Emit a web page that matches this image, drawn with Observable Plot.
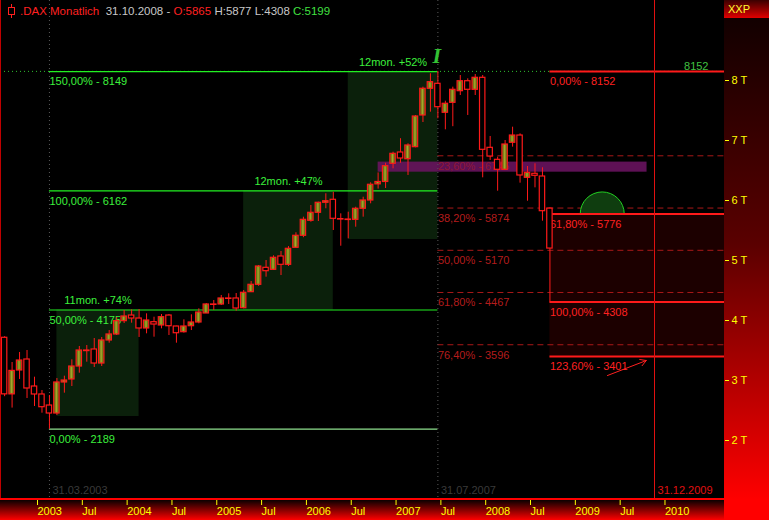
<!DOCTYPE html>
<html><head><meta charset="utf-8">
<script src="https://cdn.jsdelivr.net/npm/d3@7"></script>
<script src="https://cdn.jsdelivr.net/npm/@observablehq/plot@0.6"></script>
<style>
html,body{margin:0;padding:0;background:#000;}
#wrap{position:relative;width:769px;height:520px;background:#000;overflow:hidden;font-family:"Liberation Sans",Arial,sans-serif;font-size:11px;}
#rp{position:absolute;left:724px;top:18px;width:45px;height:502px;background:linear-gradient(to bottom,#120000 0%,#5a0000 45%,#ff0000 96%,#ff0000 100%);}
#hdr{position:absolute;left:724px;top:0;width:45px;height:18px;background:linear-gradient(to bottom,#3a0000,#e00000);color:#ffff30;line-height:18px;padding-left:4px;box-sizing:border-box;}
#bp{position:absolute;left:0;top:500px;width:724px;height:20px;background:linear-gradient(to bottom,#0a0000,#ff0000);}
#bl{position:absolute;left:0;top:498px;width:724px;height:2px;background:#ff0000;z-index:3;}
#ll{position:absolute;left:0;top:0;width:1px;height:498px;background:#c00000;z-index:3;}
#chart{position:absolute;left:0;top:0;z-index:2;}
#title{position:absolute;left:7px;top:4px;z-index:4;white-space:pre;line-height:14px;font-size:11.5px;}
#icon{display:inline-block;position:relative;width:9px;height:14px;vertical-align:top;margin-right:4px;}
#icon:before{content:"";position:absolute;left:4px;top:0;width:1px;height:14px;background:#ff2020;}
#icon:after{content:"";position:absolute;left:1px;top:3px;width:5px;height:6px;border:1px solid #ff2020;background:#000;}
</style></head>
<body>
<svg width="0" height="0" style="position:absolute">
  <defs>
    <linearGradient id="upfill" x1="0" x2="1" y1="0" y2="0">
      <stop offset="0%" stop-color="#3f5208"/>
      <stop offset="50%" stop-color="#a8a82a"/>
      <stop offset="100%" stop-color="#3f5208"/>
    </linearGradient>
  </defs>
</svg>
<div id="wrap">
  <div id="rp"></div>
  <div id="hdr">XXP</div>
  <div id="bp"></div>
  <div id="bl"></div>
  <div id="ll"></div>
  <div id="chart"></div>
  <div id="title"><span id="icon"></span><span style="color:#ff2020">.DAX Monatlich</span>  <span style="color:#c8c8c8">31.10.2008 - </span><span style="color:#ff2020">O:5865</span> <span style="color:#c8c8c8">H:5877 L:4308</span> <span style="color:#40e040">C:5199</span></div>
</div>
<script>
// ---- monthly candles (DAX, Sep 2002 – Oct 2008) ----
const months = [
 "2002-09","2002-10","2002-11","2002-12",
 "2003-01","2003-02","2003-03","2003-04","2003-05","2003-06","2003-07","2003-08","2003-09","2003-10","2003-11","2003-12",
 "2004-01","2004-02","2004-03","2004-04","2004-05","2004-06","2004-07","2004-08","2004-09","2004-10","2004-11","2004-12",
 "2005-01","2005-02","2005-03","2005-04","2005-05","2005-06","2005-07","2005-08","2005-09","2005-10","2005-11","2005-12",
 "2006-01","2006-02","2006-03","2006-04","2006-05","2006-06","2006-07","2006-08","2006-09","2006-10","2006-11","2006-12",
 "2007-01","2007-02","2007-03","2007-04","2007-05","2007-06","2007-07","2007-08","2007-09","2007-10","2007-11","2007-12",
 "2008-01","2008-02","2008-03","2008-04","2008-05","2008-06","2008-07","2008-08","2008-09","2008-10"];
const open = [3712,2769,3167,3350,
 2900,2767,2583,2450,2967,3017,3233,3500,3517,3283,3667,3767,
 3989,4083,4033,3867,3972,3917,4083,3900,3805,3905,3967,4117,
 4267,4267,4367,4367,4205,4472,4595,4878,4845,5067,4928,5212,
 5412,5662,5795,5962,6012,5683,5683,5678,5862,6000,6269,6309,
 6612,6800,6688,6889,7417,7862,7945,7462,7628,7822,7988,7845,
 8045,6878,6678,6512,6962,7083,6378,6445,6400,5865];
const high = [3730,3300,3467,3500,
 3055,2833,2750,3033,3072,3345,3567,3583,3700,3717,3833,4050,
 4167,4178,4183,4111,4055,4100,4100,3905,4011,4095,4195,4283,
 4333,4417,4445,4450,4500,4650,4917,5000,5078,5150,5233,5462,
 5722,5917,5972,6112,6138,5778,5805,5888,6055,6295,6460,6620,
 6805,7030,6945,7417,7889,8112,8152,7655,7889,8083,8028,8100,
 8083,7067,6722,7000,7222,7111,6567,6612,6545,5877];
const low = [2730,2540,3017,2700,
 2567,2455,2189,2417,2789,2900,3122,3305,3217,3233,3622,3750,
 3950,3955,3717,3778,3722,3861,3750,3622,3789,3833,3945,4117,
 4167,4250,4267,4155,4195,4472,4570,4722,4833,4750,4900,5212,
 5380,5638,5650,5862,5500,5238,5362,5555,5722,5945,6190,6200,
 6528,6620,6417,6878,7300,7472,7362,7178,7230,7750,7417,7750,
 6378,6667,6155,6500,6889,6289,5988,6211,5655,4308];
const close = [2769,3160,3333,2867,
 2767,2555,2450,2967,3000,3233,3500,3490,3283,3667,3767,3989,
 4067,4033,3867,4000,3933,4055,3905,3788,3900,3967,4133,4267,
 4260,4367,4360,4200,4462,4595,4900,4822,5045,4928,5195,5412,
 5678,5795,5962,5988,5695,5690,5675,5862,6000,6262,6309,6572,
 6778,6700,6917,7400,7862,7972,7555,7612,7845,7988,7845,8045,
 6845,6733,6512,6933,7083,6417,6462,6412,5822,5199];

// ---- upswing legs (green boxes) ----
const legFrom  = ["2003-04","2005-05","2006-07"];
const legTo    = ["2004-03","2006-05","2007-07"];
const legLow   = [2400,4175,5350];
const legHigh  = [4175,6162,8149];
const legLabel = ["11mon. +74%","12mon. +47%","12mon. +52%"];

// ---- green fibonacci extension (Mar 2003 low -> Jul 2007) ----
const gFibPct = ["0,00%","50,00%","100,00%","150,00%"];
const gFibVal = [2189,4175,6162,8149];

// ---- red retracement (from Jul 2007 high) ----
const rRetPct = ["23,60%","38,20%","50,00%","61,80%","76,40%"];
const rRetVal = [6745,5874,5170,4467,3596];

// ---- red projection (from Oct 2008) ----
const rProjPct = ["0,00%","61,80%","100,00%","123,60%"];
const rProjVal = [8152,5776,4308,3401];

// ---- markers ----
const vDates  = ["2003-03","2007-07","2009-12"];
const vLabels = ["31.03.2003","31.07.2007","31.12.2009"];
const bandFrom = "2006-11", bandTo = "2009-11", bandLow = 6472, bandHigh = 6640;
const semiDate = "2009-05", semiVal = 5776;
const arrowFrom = {m:"2009-06", v:3083}, arrowTo = {m:"2009-11", v:3333};
const highVal = 8152;

const xTickMonths = ["2003-01","2003-07","2004-01","2004-07","2005-01","2005-07","2006-01","2006-07","2007-01","2007-07","2008-01","2008-07","2009-01","2009-07","2010-01"];
const yTicks = [2000,3000,4000,5000,6000,7000,8000];

// ---- helpers ----
const idx = m => { const [y, mo] = m.split("-").map(Number); return (y - 2003) * 12 + (mo - 1); };
const candles = months.map((m, k) => ({i: idx(m), o: open[k], h: high[k], l: low[k], c: close[k]}));
const up = candles.filter(d => d.c > d.o), down = candles.filter(d => d.c <= d.o);
const PX = 7.47, X0 = 34, W = 724;
const xmin = -X0 / PX, xmax = (W - X0) / PX;
const legs = legFrom.map((f, k) => ({x1: idx(f), x2: idx(legTo[k]), y1: legLow[k], y2: legHigh[k], label: legLabel[k]}));
const gFib = gFibVal.map((v, k) => ({v, t: `${gFibPct[k]} - ${v}`}));
const rRet = rRetVal.map((v, k) => ({v, t: `${rRetPct[k]} - ${v}`}));
const rProj = rProjVal.map((v, k) => ({v, t: `${rProjPct[k]} - ${v}`}));
const vl = vDates.map((d, k) => ({i: idx(d), t: vLabels[k], red: k === 2}));
const iLow = idx("2003-03"), iHigh = idx("2007-07"), iLast = idx("2008-10");

const halfCircle = {draw(ctx, size) { const r = Math.sqrt(size / Math.PI); ctx.moveTo(-r, 0); ctx.arc(0, 0, r, Math.PI, 2 * Math.PI); ctx.closePath(); }};

const F = 11;
const chart = Plot.plot({
  width: 769, height: 520,
  marginLeft: 0, marginRight: 45, marginTop: 0, marginBottom: 20,
  style: {background: "transparent", fontFamily: "Liberation Sans, Arial, sans-serif", fontSize: "11px", overflow: "visible"},
  x: {type: "linear", domain: [xmin, xmax], label: null},
  y: {type: "linear", domain: [1000, 8000 + 80 / 0.06], label: null},
  marks: [
    Plot.rect(legs, {x1: "x1", x2: "x2", y1: "y1", y2: "y2", fill: "#0b200b"}),
    Plot.rect([{}], {x1: iLast, x2: xmax, y1: rProjVal[3], y2: rProjVal[1], fill: "#1c0000"}),
    Plot.ruleY(rRet, {y: "v", x1: iHigh, x2: xmax, stroke: "#a81818", strokeDasharray: "6,4"}),
    Plot.rect([{}], {x1: idx(bandFrom), x2: idx(bandTo), y1: bandLow, y2: bandHigh, fill: "#6e1464", fillOpacity: 0.85}),
    Plot.text(rRet, {x: iHigh, y: "v", text: "t", textAnchor: "start", lineAnchor: "top", dy: 6, fill: "#b41c1c", fillOpacity: d => d.v === 6745 ? 0.6 : 1, fontSize: F}),
    Plot.dot([{}], {x: idx(semiDate), y: semiVal, r: 22, symbol: halfCircle, fill: "#0f3d0f", stroke: "#22d022", strokeWidth: 1}),
    Plot.ruleY([highVal], {stroke: "#2fc02f", strokeDasharray: "1,3"}),
    Plot.ruleY(gFib, {y: "v", x1: iLow, x2: iHigh, stroke: d => d.v === 2189 ? "#8ee08e" : "#22f022", strokeWidth: 1.2}),
    Plot.text(gFib, {x: iLow, y: "v", text: "t", textAnchor: "start", lineAnchor: "top", dy: 6, fill: "#3cf03c", fontSize: F}),
    Plot.text(legs, {x: d => (d.x1 + d.x2) / 2, y: "y2", text: "label", lineAnchor: "bottom", dy: -6, fill: "#3cf03c", fontSize: F}),
    Plot.ruleY(rProj, {y: "v", x1: iLast, x2: xmax, stroke: "#ff1a1a", strokeWidth: 2}),
    Plot.text(rProj, {x: iLast, y: "v", text: "t", textAnchor: "start", lineAnchor: "top", dy: 6, fill: "#ff2020", fontSize: F}),
    Plot.ruleX(vl.filter(d => !d.red), {x: "i", stroke: "#5a5a5a", strokeDasharray: "1,3"}),
    Plot.ruleX(vl.filter(d => d.red), {x: "i", stroke: "#e01010"}),
    Plot.text(vl, {x: "i", frameAnchor: "bottom", text: "t", textAnchor: "start", lineAnchor: "bottom", dx: 3, dy: -7, fill: d => d.red ? "#e01010" : "#3a3a3a", fontSize: F}),
    Plot.ruleX(candles, {x: "i", y1: "l", y2: "h", stroke: "#ff1a1a"}),
    Plot.rect(down, {x1: d => d.i - 0.36, x2: d => d.i + 0.36, y1: "o", y2: "c", fill: "#000", stroke: "#ff1a1a", strokeWidth: 1.2}),
    Plot.rect(up, {x1: d => d.i - 0.36, x2: d => d.i + 0.36, y1: "o", y2: "c", fill: "url(#upfill)", stroke: "#ff1a1a", strokeWidth: 1.2}),
    Plot.text([{}], {x: iHigh, y: highVal, text: ["I"], lineAnchor: "bottom", dy: -8, dx: -1, fill: "#33c033", fontSize: 22, fontWeight: "bold", fontStyle: "italic", fontFamily: "Liberation Serif, serif"}),
    Plot.text([{}], {x: xmax, y: highVal, text: [String(highVal)], textAnchor: "end", lineAnchor: "bottom", dx: -16, dy: -1, fill: "#40c040", fontSize: F}),
    Plot.arrow([{}], {x1: idx(arrowFrom.m) - 0.3, y1: arrowFrom.v, x2: idx(arrowTo.m) - 0.1, y2: arrowTo.v, stroke: "#ff2020", strokeWidth: 1, headLength: 10}),
    Plot.axisX({ticks: xTickMonths.map(idx), tickFormat: i => i % 12 === 0 ? String(2003 + i / 12) : "Jul", tickSize: 5, tickPadding: 2, textAnchor: "start", dx: 3, color: "#ffff00", fontSize: F, label: null}),
    Plot.axisY({anchor: "right", ticks: yTicks, tickFormat: d => `${d / 1000} T`, tickSize: 4, tickPadding: 3, color: "#ffff00", fontSize: F, label: null})
  ]
});
document.getElementById("chart").appendChild(chart);
</script>
</body></html>
